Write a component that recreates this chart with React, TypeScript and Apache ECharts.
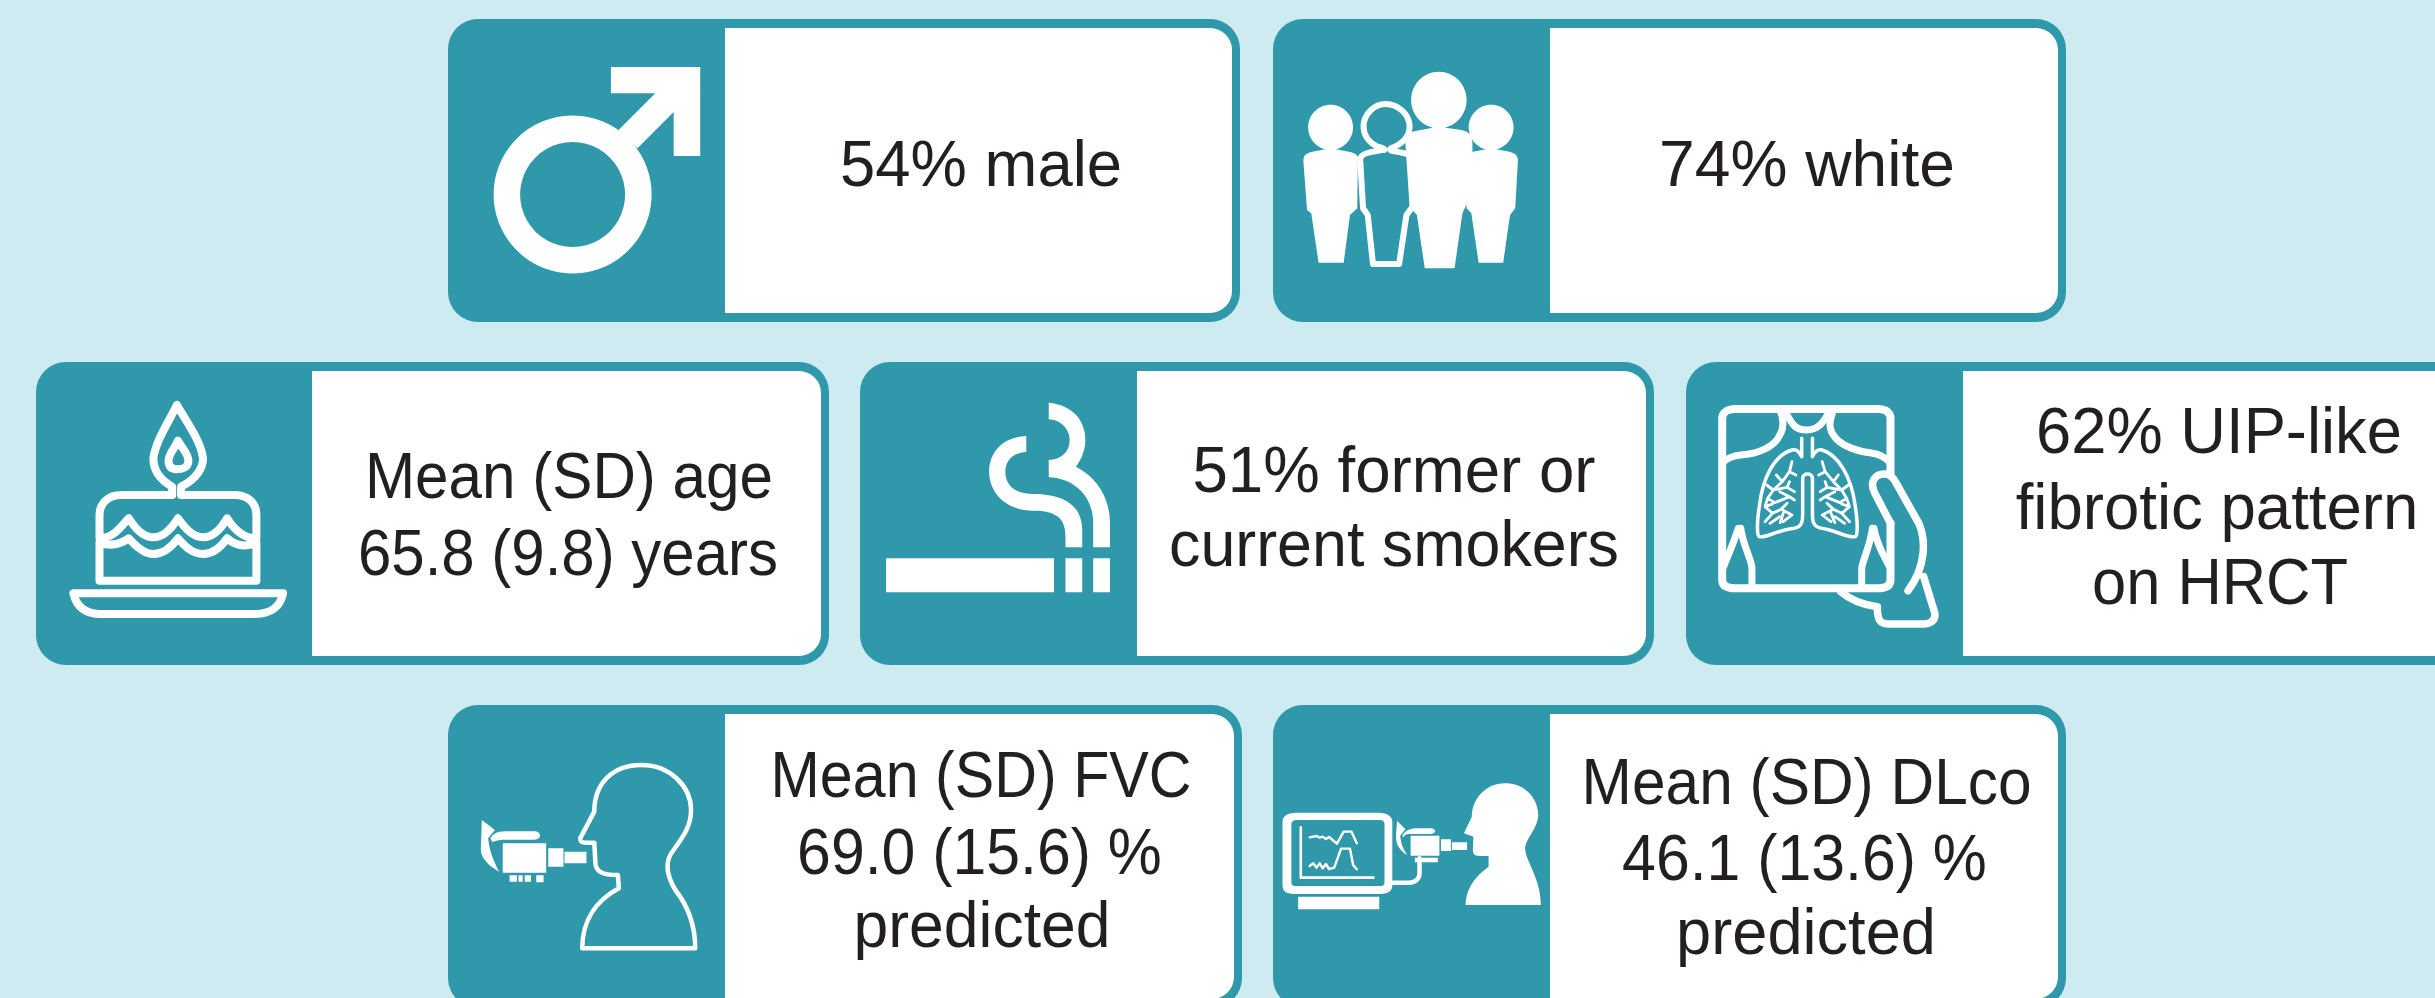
import React, { useEffect, useRef } from "react";
import * as echarts from "echarts";

// ---- content ----
const maleLines = ["54% male"];
const whiteLines = ["74% white"];
const ageLines = ["Mean (SD) age", "65.8 (9.8) years"];
const smokerLines = ["51% former or", "current smokers"];
const uipLines = ["62% UIP-like", "fibrotic pattern", "on HRCT"];
const fvcLines = ["Mean (SD) FVC", "69.0 (15.6) %", "predicted"];
const dlcoLines = ["Mean (SD) DLco", "46.1 (13.6) %", "predicted"];

// ---- layout ----
const TEAL = "#3098AB";
const BG = "#CEEBF1";
const INK = "#231F20";
const FONT_SIZE = 65;
const FONT_FAMILY = '"Liberation Sans", Arial, sans-serif';

type Card = { x: number; y: number; w: number; h: number; split: number; ys: number[]; widths: number[]; xs: number[]; lines: string[] };
const cards: Card[] = [
  { x: 448, y: 19, w: 792, h: 303, split: 725, ys: [164], widths: [282], xs: [981], lines: maleLines },
  { x: 1273, y: 19, w: 793, h: 303, split: 1550, ys: [164], widths: [296], xs: [1807], lines: whiteLines },
  { x: 36, y: 362, w: 793, h: 303, split: 312, ys: [475, 552], widths: [408, 420], xs: [569, 568], lines: ageLines },
  { x: 860, y: 362, w: 794, h: 303, split: 1137, ys: [470, 544], widths: [403, 450], xs: [1394, 1394], lines: smokerLines },
  { x: 1686, y: 362, w: 800, h: 303, split: 1963, ys: [431, 507, 581], widths: [366, 403, 256], xs: [2219, 2217, 2220], lines: uipLines },
  { x: 448, y: 705, w: 794, h: 303, split: 725, ys: [775, 851, 925], widths: [421, 365, 257], xs: [981, 979.5, 982], lines: fvcLines },
  { x: 1273, y: 705, w: 793, h: 303, split: 1550, ys: [781, 857, 932], widths: [450, 365, 260], xs: [1806.6, 1804.5, 1806], lines: dlcoLines },
];

// Icon outlines are noted in the coordinates of a stretched crop and mapped to the page.
const mapPath = (d: string, ox: number, oy: number, sx: number, sy: number) =>
  d.replace(/(-?[\d.]+)[ ,](-?[\d.]+)/g, (_m, a, b) => `${(ox + parseFloat(a) / sx).toFixed(2)} ${(oy + parseFloat(b) / sy).toFixed(2)}`);

const ell = (cx: number, cy: number, rx: number, ry: number) => {
  const k = 0.5523;
  return `M${cx - rx} ${cy} C${cx - rx} ${cy - k * ry} ${cx - k * rx} ${cy - ry} ${cx} ${cy - ry} C${cx + k * rx} ${cy - ry} ${cx + rx} ${cy - k * ry} ${cx + rx} ${cy} C${cx + rx} ${cy + k * ry} ${cx + k * rx} ${cy + ry} ${cx} ${cy + ry} C${cx - k * rx} ${cy + ry} ${cx - rx} ${cy + k * ry} ${cx - rx} ${cy} Z `;
};
const box = (x0: number, y0: number, x1: number, y1: number) => `M${x0} ${y0} L${x1} ${y0} L${x1} ${y1} L${x0} ${y1} Z `;

type Icon = { d: string; o: number[]; fill?: string; stroke?: string; lw?: number };
const Z1 = [440, 0, 1.96, 3];
const Z2 = [1260, 0, 1.912, 3];
const Z3 = [20, 350, 1.912, 3];
const Z4 = [850, 350, 1.912, 3];
const Z5 = [1670, 350, 2.05, 3];
const Z6 = [440, 690, 1.912, 3];
const Z7 = [1260, 690, 1.912, 3];

const icons: Icon[] = [
  // male symbol arrow
  { o: Z1, fill: "#fff", d: "M335 201 L510 201 L510 468 L458 468 L458 336 L387 445 L350 390 L422 280 L335 280 Z" },
  // people
  { o: Z2, stroke: "#fff", lw: 6, d: "M232 450 C245 452 235 442 225 440 C205 425 198 400 198 380 C198 340 220 312 240 312 C265 312 286 345 286 380 C286 405 275 430 250 445 C245 455 260 452 282 462 M232 450 L208 458 C192 464 190 475 192 490 L197 625 L206 645 L216 792 L266 792 L280 645 L292 620" },
  { o: Z2, fill: "#fff", d: ell(135, 382, 43, 68) + "M100 455 L125 448 L145 448 L170 455 C185 460 190 468 187 485 L186 625 L172 645 L160 788 L112 788 L98 640 L90 630 L83 485 C83 468 85 460 100 455 Z" },
  { o: Z2, fill: "#fff", d: ell(442, 382, 43, 68) + "M407 455 L432 448 L452 448 L477 455 C490 460 494 470 493 485 L488 625 L478 645 L465 788 L418 788 L404 640 L395 625 L395 480 Z" },
  { o: Z2, fill: "#fff", d: ell(342, 300, 53, 85) + "M300 392 L330 383 L355 383 L385 390 C400 395 405 405 406 425 L407 540 L396 610 L387 640 L372 805 L315 805 L300 645 L286 620 L278 430 C278 405 285 396 300 392 Z" },
  // cake
  { o: Z3, stroke: "#fff", lw: 8, d: "M291 435 L195 435 C165 435 152 465 152 495 L152 565 C178 565 190 535 208 505 C222 540 238 562 255 562 C275 562 290 535 302 505 C316 535 330 562 350 562 C370 562 385 535 396 505 C410 540 428 565 452 565 L452 495 C452 465 440 435 410 435 L308 435 L308 410 C340 385 350 350 350 325 C345 270 318 215 300 165 C285 215 260 270 255 325 C255 350 262 385 291 410 Z" },
  { o: Z3, stroke: "#fff", lw: 8, d: "M152 578 C178 592 195 580 208 565 C222 590 240 612 255 612 C275 612 290 590 302 565 C316 590 330 612 350 612 C370 612 385 590 396 565 C410 585 428 595 452 578 M152 585 L152 692 L452 692 L452 585" },
  { o: Z3, stroke: "#fff", lw: 8, d: "M302 272 C312 300 322 312 322 332 C322 352 310 358 302 358 C290 358 284 350 284 332 C284 312 294 300 302 272 Z" },
  { o: Z3, stroke: "#fff", lw: 8, d: "M102 730 L503 730 C498 770 480 792 450 792 L155 792 C125 792 108 770 102 730 Z" },
  // cigarette
  { o: Z4, fill: "#fff", d: box(69, 625, 390, 727) + box(412, 625, 444, 727) + box(465, 625, 497, 727) },
  { o: Z4, fill: "#fff", d: "M337 258 C290 262 266 310 266 365 C266 430 300 482 350 482 C395 482 412 505 412 560 L412 592 L444 592 L444 540 C444 480 420 432 350 432 C320 432 297 410 297 365 C297 335 310 308 337 306 Z" },
  { o: Z4, fill: "#fff", d: "M380 158 C425 165 450 210 450 270 C450 300 442 330 432 350 C470 380 497 440 497 520 L497 592 L465 592 L465 520 C465 440 430 385 380 382 L380 330 C405 328 420 305 420 270 C420 240 405 210 380 208 Z" },
  // HRCT tablet, hand and lungs
  { o: Z5, stroke: "#fff", lw: 8, d: "M452 375 L452 205 C452 190 445 177 425 177 L135 177 C115 177 107 190 107 205 L107 690 C107 705 115 715 135 715 L425 715 C440 715 452 710 452 690 L452 520" },
  { o: Z5, stroke: "#fff", lw: 7, d: "M225 180 C235 210 232 240 225 255 C215 290 180 312 150 314 C130 316 115 325 107 340 M335 180 C325 220 325 240 340 265 C355 290 390 306 410 308 C430 312 445 325 452 340 M238 190 C250 220 255 240 280 240 C305 240 315 215 325 190" },
  { o: Z5, stroke: "#fff", lw: 7, d: "M140 535 C130 580 118 620 110 650 M145 535 C150 590 168 630 168 655 L168 712 M415 535 C410 590 395 630 393 655 L393 712 M418 535 C425 590 440 620 450 650" },
  { o: Z5, stroke: "#fff", lw: 7.5, d: "M452 520 L420 430 C408 395 420 372 440 372 C452 372 458 385 462 395 L510 520 C525 570 525 650 488 722 M520 680 L543 790 C545 815 530 822 520 822 L450 822 C430 822 425 810 425 770 C395 765 370 750 350 725" },
  { o: Z5, stroke: "#fff", lw: 3.5, d: "M270 265 L270 320 C262 300 258 298 250 300 C215 315 190 380 183 470 C178 520 178 555 183 560 C195 566 220 540 255 535 C272 530 272 510 272 490 L272 385 C272 368 292 368 292 385 L292 490 C292 510 292 530 310 535 C340 540 365 566 380 560 C385 555 385 520 380 470 C372 380 345 315 312 300 C305 298 298 300 292 320 L292 265" },
  { o: Z5, stroke: "#fff", lw: 2.8, d: "M250 335 L245 365 L230 395 L212 420 L200 445 M245 365 L258 375 M230 395 L218 375 M212 420 L198 405 M212 420 L240 412 L255 425 M240 412 L245 395 M200 445 L215 458 L245 440 L255 450 M245 440 L225 425 M200 445 L195 470 L210 490 L195 515 M195 470 L210 462 M210 490 L228 478 L250 495 M228 478 L240 460 M250 495 L232 515 M232 490 L226 518 M205 520 L225 500" },
  { o: Z5, stroke: "#fff", lw: 2.8, d: "M312 335 L318 365 L335 395 L352 420 L362 445 M318 365 L305 375 M335 395 L345 375 M352 420 L366 405 M352 420 L322 412 L308 425 M322 412 L318 395 M362 445 L348 458 L318 440 L308 450 M318 440 L338 425 M362 445 L368 470 L352 490 L368 515 M368 470 L352 462 M352 490 L335 478 L312 495 M335 478 L322 460 M312 495 L330 515 M330 490 L338 518 M358 520 L338 500" },
  // FVC spirometry
  { o: Z6, stroke: "#fff", lw: 4.5, d: "M272 775 L488 775 C488 700 470 640 450 600 C435 560 430 520 442 490 C465 440 480 410 480 360 C480 290 440 225 385 225 C330 225 295 280 295 365 L268 445 C268 455 270 458 280 458 L295 458 L297 515 C297 545 310 555 340 555 L342 595 C300 630 272 690 272 775 Z" },
  { o: Z6, fill: "#fff", d: box(120, 460, 203, 548) + box(207, 475, 236, 530) + box(238, 485, 280, 520) + box(133, 556, 147, 575) + box(150, 556, 158, 575) + box(162, 556, 174, 575) + box(184, 556, 198, 577) },
  { o: Z6, fill: "#fff", d: "M80 390 L105 420 L92 445 C95 490 105 520 113 545 C90 525 78 500 78 480 Z M96 445 C105 425 115 424 130 424 L180 424 C195 424 195 449 180 449 L125 449 C110 449 108 452 100 456 Z" },
  // DLco monitor
  { o: Z7, fill: "#fff", d: "M70 368 L225 368 C245 368 253 380 253 395 L253 585 C253 605 245 612 225 612 L70 612 C50 612 43 605 43 585 L43 395 C43 380 50 368 70 368 Z " + box(73, 620, 228, 658) },
  { o: Z7, fill: TEAL, d: "M70 390 L228 390 C235 390 238 395 238 402 L238 578 C238 585 235 588 228 588 L70 588 C63 588 60 585 60 578 L60 402 C60 395 63 390 70 390 Z" },
  { o: Z7, stroke: "#fff", lw: 2.6, d: "M78 412 L78 563 L217 563" },
  { o: Z7, stroke: "#fff", lw: 2.4, d: "M95 442 L108 438 L114 443 L120 440 L126 447 L132 441 L147 461 L160 425 L175 425 L185 460 M95 528 L102 520 L108 533 L114 520 L120 535 L126 522 L132 537 L142 533 L155 476 L172 476 L178 525 L185 538" },
  { o: Z7, stroke: "#fff", lw: 4.5, d: "M253 578 L285 578 C298 578 305 565 305 550 L305 505" },
  { o: Z7, fill: "#fff", d: box(288, 437, 343, 497) + box(346, 448, 365, 483) + box(367, 457, 396, 480) + box(296, 503, 340, 517) },
  { o: Z7, fill: "#fff", d: "M262 392 L278 418 L268 437 C270 465 275 480 282 495 C265 480 260 460 260 440 Z M272 437 C278 420 290 415 300 415 L325 415 C338 415 338 432 325 432 L285 432 C280 432 276 435 274 442 Z" },
  { o: Z7, fill: "#fff", d: "M393 645 C393 600 410 560 437 530 L437 498 L420 498 C408 498 407 490 407 478 L408 440 L390 430 L405 380 C405 330 430 280 468 280 C510 280 532 330 532 375 C532 410 510 445 507 470 C505 510 537 560 537 645 Z" },
];

icons.forEach((ic, i) => {
  const d = mapPath(ic.d, ic.o[0], ic.o[1], ic.o[2], ic.o[3]);
  echarts.graphic.registerShape("icon" + i, echarts.graphic.extendPath(d, {}) as any);
});

const measure = (s: string) => {
  const ctx = document.createElement("canvas").getContext("2d")!;
  ctx.font = `${FONT_SIZE}px "Liberation Sans"`;
  return ctx.measureText(s).width;
};

export default function App() {
  const ref = useRef<HTMLDivElement>(null);
  useEffect(() => {
    document.body.style.margin = "0";
    const chart = echarts.init(ref.current!, undefined, { renderer: "svg" });
    const elements: any[] = [];
    cards.forEach((c) => {
      elements.push({ type: "rect", shape: { x: c.x, y: c.y, width: c.w, height: c.h, r: 30 }, style: { fill: TEAL } });
      elements.push({
        type: "rect",
        shape: { x: c.split, y: c.y + 9, width: c.x + c.w - 8 - c.split, height: c.h - 18, r: [0, 22, 22, 0] },
        style: { fill: "#fff" },
      });
      c.lines.forEach((t, i) => {
        elements.push({
          type: "text",
          x: c.xs[i],
          y: c.ys[i],
          scaleX: c.widths[i] / measure(t),
          style: { text: t, fill: INK, fontSize: FONT_SIZE, fontFamily: FONT_FAMILY, textAlign: "center", verticalAlign: "middle" },
        });
      });
    });
    elements.push({ type: "ring", shape: { cx: 572.6, cy: 194.5, r: 79, r0: 52.5 }, style: { fill: "#fff" } });
    icons.forEach((ic, i) => {
      elements.push({
        type: "icon" + i,
        style: {
          fill: ic.fill ?? "none",
          stroke: ic.stroke ?? "none",
          lineWidth: ic.lw ?? 0,
          lineJoin: "round",
          lineCap: "round",
        },
      });
    });
    chart.setOption({ animation: false, backgroundColor: BG, graphic: { elements } });
    return () => chart.dispose();
  }, []);
  return <div ref={ref} style={{ width: 2435, height: 998 }} />;
}
